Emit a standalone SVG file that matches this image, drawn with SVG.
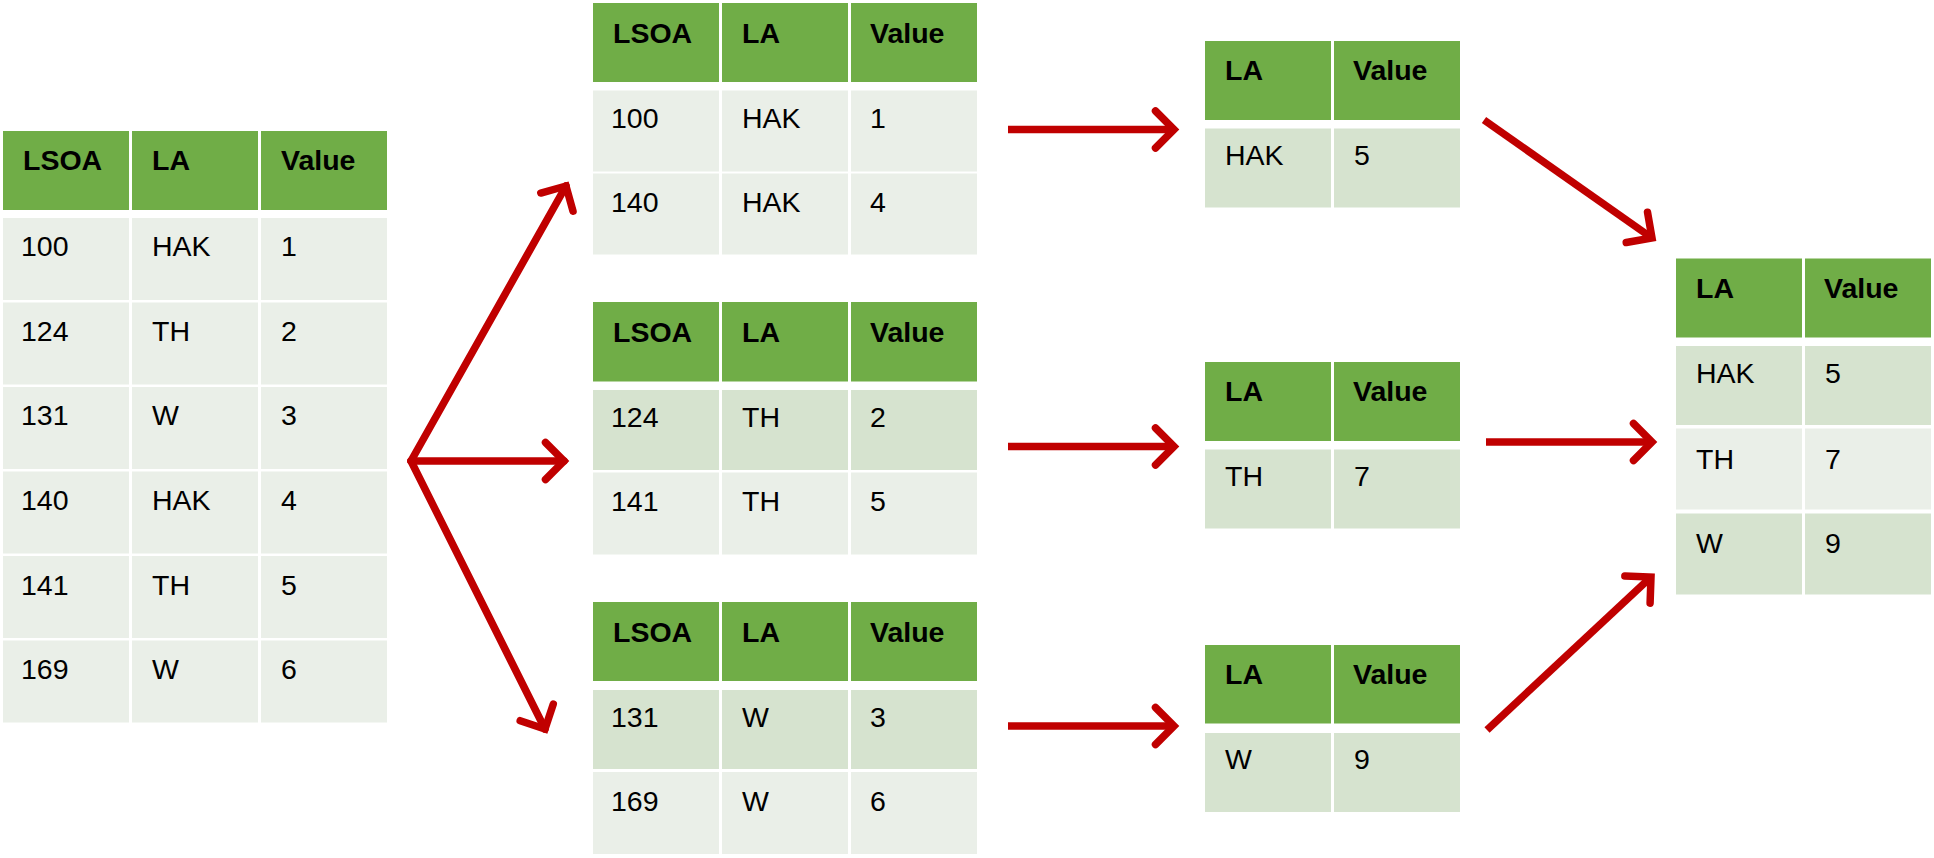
<svg xmlns="http://www.w3.org/2000/svg" width="1934" height="858" viewBox="0 0 1934 858">
<style>
.hd{fill:#70AD47}
.lt{fill:#EAEFE8}
.dk{fill:#D6E3CF}
.th{font-family:"Liberation Sans",Arial,sans-serif;font-weight:bold;font-size:28.5px;fill:#000}
.td{font-family:"Liberation Sans",Arial,sans-serif;font-size:28.5px;fill:#000}
.arr{stroke:#C00000;stroke-width:7.5;fill:none;marker-end:url(#chev)}
.fan{stroke-linecap:round}
</style>
<defs>
<marker id="chev" markerUnits="userSpaceOnUse" orient="auto" refX="0" refY="0" markerWidth="1" markerHeight="1" overflow="visible">
<path d="M -18.5 -18.5 L 0 0 L -18.5 18.5" fill="none" stroke="#C00000" stroke-width="7.5" stroke-linecap="round" stroke-linejoin="miter"/>
</marker>
</defs>
<rect width="1934" height="858" fill="#fff"/>

<g id="t-source">
<rect class="hd" x="3" y="131" width="126" height="79"/><rect class="hd" x="132" y="131" width="126" height="79"/><rect class="hd" x="261" y="131" width="126" height="79"/>
<text class="th" x="23" y="170">LSOA</text><text class="th" x="152" y="170">LA</text><text class="th" x="281" y="170">Value</text>
<rect class="lt" x="3" y="218" width="126" height="82"/><rect class="lt" x="132" y="218" width="126" height="82"/><rect class="lt" x="261" y="218" width="126" height="82"/>
<text class="td" x="21" y="256">100</text><text class="td" x="152" y="256">HAK</text><text class="td" x="281" y="256">1</text>
<rect class="lt" x="3" y="302.5" width="126" height="82"/><rect class="lt" x="132" y="302.5" width="126" height="82"/><rect class="lt" x="261" y="302.5" width="126" height="82"/>
<text class="td" x="21" y="340.5">124</text><text class="td" x="152" y="340.5">TH</text><text class="td" x="281" y="340.5">2</text>
<rect class="lt" x="3" y="387" width="126" height="82"/><rect class="lt" x="132" y="387" width="126" height="82"/><rect class="lt" x="261" y="387" width="126" height="82"/>
<text class="td" x="21" y="425">131</text><text class="td" x="152" y="425">W</text><text class="td" x="281" y="425">3</text>
<rect class="lt" x="3" y="471.5" width="126" height="82"/><rect class="lt" x="132" y="471.5" width="126" height="82"/><rect class="lt" x="261" y="471.5" width="126" height="82"/>
<text class="td" x="21" y="510">140</text><text class="td" x="152" y="510">HAK</text><text class="td" x="281" y="510">4</text>
<rect class="lt" x="3" y="556" width="126" height="82"/><rect class="lt" x="132" y="556" width="126" height="82"/><rect class="lt" x="261" y="556" width="126" height="82"/>
<text class="td" x="21" y="594.5">141</text><text class="td" x="152" y="594.5">TH</text><text class="td" x="281" y="594.5">5</text>
<rect class="lt" x="3" y="640.5" width="126" height="82"/><rect class="lt" x="132" y="640.5" width="126" height="82"/><rect class="lt" x="261" y="640.5" width="126" height="82"/>
<text class="td" x="21" y="679">169</text><text class="td" x="152" y="679">W</text><text class="td" x="281" y="679">6</text>
</g>

<g id="t-hak">
<rect class="hd" x="593" y="3" width="126" height="79"/><rect class="hd" x="722" y="3" width="126" height="79"/><rect class="hd" x="851" y="3" width="126" height="79"/>
<text class="th" x="613" y="42.5">LSOA</text><text class="th" x="742" y="42.5">LA</text><text class="th" x="870" y="42.5">Value</text>
<rect class="lt" x="593" y="90.5" width="126" height="81"/><rect class="lt" x="722" y="90.5" width="126" height="81"/><rect class="lt" x="851" y="90.5" width="126" height="81"/>
<text class="td" x="611" y="127.5">100</text><text class="td" x="742" y="127.5">HAK</text><text class="td" x="870" y="127.5">1</text>
<rect class="lt" x="593" y="173.5" width="126" height="81"/><rect class="lt" x="722" y="173.5" width="126" height="81"/><rect class="lt" x="851" y="173.5" width="126" height="81"/>
<text class="td" x="611" y="212">140</text><text class="td" x="742" y="212">HAK</text><text class="td" x="870" y="212">4</text>
</g>

<g id="t-th">
<rect class="hd" x="593" y="302" width="126" height="79.5"/><rect class="hd" x="722" y="302" width="126" height="79.5"/><rect class="hd" x="851" y="302" width="126" height="79.5"/>
<text class="th" x="613" y="341.5">LSOA</text><text class="th" x="742" y="341.5">LA</text><text class="th" x="870" y="341.5">Value</text>
<rect class="dk" x="593" y="390" width="126" height="80"/><rect class="dk" x="722" y="390" width="126" height="80"/><rect class="dk" x="851" y="390" width="126" height="80"/>
<text class="td" x="611" y="427">124</text><text class="td" x="742" y="427">TH</text><text class="td" x="870" y="427">2</text>
<rect class="lt" x="593" y="472.5" width="126" height="82"/><rect class="lt" x="722" y="472.5" width="126" height="82"/><rect class="lt" x="851" y="472.5" width="126" height="82"/>
<text class="td" x="611" y="511">141</text><text class="td" x="742" y="511">TH</text><text class="td" x="870" y="511">5</text>
</g>

<g id="t-w">
<rect class="hd" x="593" y="602" width="126" height="79"/><rect class="hd" x="722" y="602" width="126" height="79"/><rect class="hd" x="851" y="602" width="126" height="79"/>
<text class="th" x="613" y="641.5">LSOA</text><text class="th" x="742" y="641.5">LA</text><text class="th" x="870" y="641.5">Value</text>
<rect class="dk" x="593" y="690" width="126" height="79"/><rect class="dk" x="722" y="690" width="126" height="79"/><rect class="dk" x="851" y="690" width="126" height="79"/>
<text class="td" x="611" y="726.5">131</text><text class="td" x="742" y="726.5">W</text><text class="td" x="870" y="726.5">3</text>
<rect class="lt" x="593" y="772" width="126" height="82"/><rect class="lt" x="722" y="772" width="126" height="82"/><rect class="lt" x="851" y="772" width="126" height="82"/>
<text class="td" x="611" y="811">169</text><text class="td" x="742" y="811">W</text><text class="td" x="870" y="811">6</text>
</g>

<g id="s-hak">
<rect class="hd" x="1205" y="41" width="126" height="79"/><rect class="hd" x="1334" y="41" width="126" height="79"/>
<text class="th" x="1225" y="80">LA</text><text class="th" x="1353" y="80">Value</text>
<rect class="dk" x="1205" y="128.5" width="126" height="79"/><rect class="dk" x="1334" y="128.5" width="126" height="79"/>
<text class="td" x="1225" y="165">HAK</text><text class="td" x="1354" y="165">5</text>
</g>

<g id="s-th">
<rect class="hd" x="1205" y="362" width="126" height="79"/><rect class="hd" x="1334" y="362" width="126" height="79"/>
<text class="th" x="1225" y="400.5">LA</text><text class="th" x="1353" y="400.5">Value</text>
<rect class="dk" x="1205" y="449.5" width="126" height="79"/><rect class="dk" x="1334" y="449.5" width="126" height="79"/>
<text class="td" x="1225" y="486">TH</text><text class="td" x="1354" y="486">7</text>
</g>

<g id="s-w">
<rect class="hd" x="1205" y="645" width="126" height="78.5"/><rect class="hd" x="1334" y="645" width="126" height="78.5"/>
<text class="th" x="1225" y="684">LA</text><text class="th" x="1353" y="684">Value</text>
<rect class="dk" x="1205" y="733" width="126" height="79"/><rect class="dk" x="1334" y="733" width="126" height="79"/>
<text class="td" x="1225" y="768.5">W</text><text class="td" x="1354" y="768.5">9</text>
</g>

<g id="t-result">
<rect class="hd" x="1676" y="258.5" width="126" height="79"/><rect class="hd" x="1805" y="258.5" width="126" height="79"/>
<text class="th" x="1696" y="297.5">LA</text><text class="th" x="1824" y="297.5">Value</text>
<rect class="dk" x="1676" y="346" width="126" height="79"/><rect class="dk" x="1805" y="346" width="126" height="79"/>
<text class="td" x="1696" y="382.5">HAK</text><text class="td" x="1825" y="382.5">5</text>
<rect class="lt" x="1676" y="428.5" width="126" height="81"/><rect class="lt" x="1805" y="428.5" width="126" height="81"/>
<text class="td" x="1696" y="468.5">TH</text><text class="td" x="1825" y="468.5">7</text>
<rect class="dk" x="1676" y="513.5" width="126" height="81"/><rect class="dk" x="1805" y="513.5" width="126" height="81"/>
<text class="td" x="1696" y="552.5">W</text><text class="td" x="1825" y="552.5">9</text>
</g>

<g id="connectors">
<line class="arr fan" x1="411" y1="461" x2="566" y2="186"/>
<line class="arr fan" x1="411" y1="461" x2="564" y2="461"/>
<line class="arr fan" x1="411" y1="461" x2="545" y2="729"/>
<line class="arr" x1="1008" y1="129.5" x2="1174" y2="129.5"/>
<line class="arr" x1="1008" y1="446.5" x2="1174" y2="446.5"/>
<line class="arr" x1="1008" y1="726" x2="1174" y2="726"/>
<line class="arr" x1="1484" y1="120" x2="1652" y2="238"/>
<line class="arr" x1="1486" y1="442" x2="1652" y2="442"/>
<line class="arr" x1="1487" y1="730" x2="1651" y2="577"/>
</g>
</svg>
